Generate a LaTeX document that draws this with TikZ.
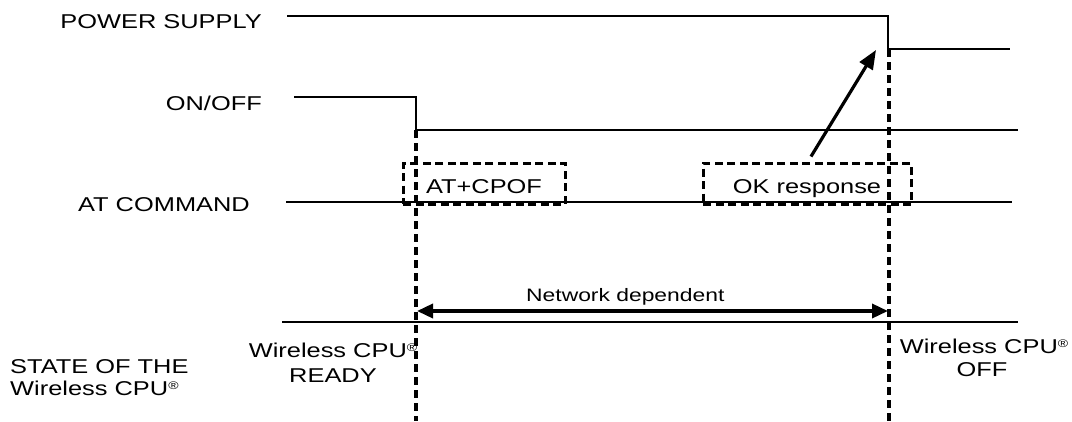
\documentclass[tikz,border=0pt]{standalone}
\usepackage{fontspec}
\setmainfont{Liberation Sans}[FakeStretch=1.27]
\usetikzlibrary{arrows.meta}
\newcommand{\regmark}{{\fontsize{11}{11}\selectfont\raisebox{5.5pt}{®}}}
\begin{document}
\begin{tikzpicture}[x=1pt,y=-1pt,
  sig/.style={line width=1.9pt},
  vdash/.style={line width=3.3pt, dash pattern=on 8pt off 5pt},
  lbl/.style={inner sep=0pt, font=\fontsize{20}{23}\selectfont},
  cmdbox/.style={draw, line width=3pt, dash pattern=on 8pt off 4.5pt,
    minimum height=41pt, inner sep=0pt, text height=19pt, text depth=0pt,
    font=\fontsize{20}{23}\selectfont},
  bigarrow/.style={line width=3.2pt, -{Triangle[length=19pt,width=15pt]}},
  netarrow/.style={line width=3.5pt, {Triangle[length=16pt,width=14pt]}-{Triangle[length=16pt,width=14pt]}}
]
\useasboundingbox (0,0) rectangle (1072,421);

% labels
\node[lbl, anchor=base east] (ps) at (262,28) {POWER SUPPLY};
\node[lbl, anchor=base east] (onoff) at (262,110) {ON/OFF};
\node[lbl, anchor=base east] (atc) at (250,211) {AT COMMAND};
\node[lbl, anchor=base west] (st1) at (10,373) {STATE OF THE};
\node[lbl, anchor=base west] (st2) at (10,395) {Wireless CPU\regmark};
\node[lbl, anchor=base] (rdy1) at (333,357) {Wireless CPU\regmark};
\node[lbl, anchor=base] (rdy2) at (333,382) {READY};
\node[lbl, anchor=base] (off1) at (984,353) {Wireless CPU\regmark};
\node[lbl, anchor=base] (off2) at (982,376) {OFF};
\node[lbl, font=\fontsize{18}{21}\selectfont, anchor=base west] (net) at (526,301) {Network dependent};

% coordinates of the signals
\coordinate (psA) at (287,16);
\coordinate (psDrop) at (888,16);
\coordinate (psLow) at (888,49);
\coordinate (psB) at (1010,49);
\coordinate (ooA) at (294,97);
\coordinate (ooDrop) at (416,97);
\coordinate (ooLow) at (416,130);
\coordinate (ooB) at (1018,130);
\coordinate (atA) at (286,202);
\coordinate (atB) at (1012,202);
\coordinate (stA) at (282,322);
\coordinate (stB) at (1018,322);
\coordinate (v1top) at (416,130);
\coordinate (v1bot) at (416,421);
\coordinate (v2top) at (889,49);
\coordinate (v2bot) at (889,421);
\coordinate (netL) at (417,311);
\coordinate (netR) at (888,311);
\coordinate (psTip) at (876,50);

% signal lines
\draw[sig] (psA) -- (psDrop) -- (psLow) -- (psB);
\draw[sig] (ooA) -- (ooDrop) -- (ooLow) -- (ooB);
\draw[sig] (atA) -- (atB);
\draw[sig] (stA) -- (stB);

% command boxes
\node[cmdbox, minimum width=162pt] (cpof) at (484,183.5) {AT+CPOF};
\node[cmdbox, minimum width=208pt] (okr) at (807,183.5) {OK response\hspace{16pt}};

% dashed verticals
\draw[vdash] (v1top) -- (v1bot);
\draw[vdash] (v2top) -- (v2bot);

% arrows
\draw[bigarrow] ([xshift=4pt,yshift=5pt]okr.north) -- (psTip);
\draw[netarrow] (netL) -- (netR);
\end{tikzpicture}
\end{document}
